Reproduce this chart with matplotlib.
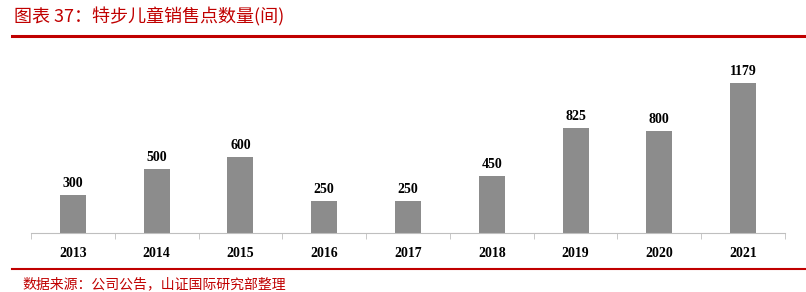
import numpy as np
import matplotlib.pyplot as plt
from matplotlib.lines import Line2D

years = ['2013', '2014', '2015', '2016', '2017', '2018', '2019', '2020', '2021']
stores = [300, 500, 600, 250, 250, 450, 825, 800, 1179]

title = '图表 37：特步儿童销售点数量(间)'
source = '数据来源：公司公告，山证国际研究部整理'

red = '#c00000'
W, H = 806, 292
fig = plt.figure(figsize=(W / 100, H / 100), dpi=100)

ax = fig.add_axes([31 / W, 1 - 233 / H, 754 / W, 178 / H])
x = np.arange(len(years))
ax.bar(x, stores, width=0.31, color='#8c8c8c', zorder=2)
for xi, v in zip(x, stores):
    ax.text(xi, v + 40, str(v), ha='center', va='bottom', fontsize=10,
            fontweight='bold', family='Liberation Serif')

ax.set_xlim(-0.5, len(years) - 0.5)
ax.set_ylim(0, 1400)
ax.set_yticks([])
ax.set_xticks(x)
ax.set_xticklabels(years, fontsize=10, fontweight='bold', family='Liberation Serif')
ax.set_xticks(np.arange(len(years) + 1) - 0.5, minor=True)
ax.tick_params(axis='x', which='major', length=0, pad=10)
ax.tick_params(axis='x', which='minor', length=4, color='#bfbfbf', direction='out')
for s in ['top', 'left', 'right']:
    ax.spines[s].set_visible(False)
ax.spines['bottom'].set_color('#bfbfbf')

fig.text(14 / W, 1 - 17 / H, title, color=red, fontsize=13, va='center',
         family=['Noto Sans CJK SC', 'DejaVu Sans'])
fig.add_artist(Line2D([12 / W, 1], [1 - 36 / H, 1 - 36 / H], color=red, lw=2.2))
fig.add_artist(Line2D([12 / W, 1], [1 - 269 / H, 1 - 269 / H], color=red, lw=1.5))
fig.text(22 / W, 1 - 284 / H, source, color=red, fontsize=10, va='center',
         style='italic', family=['Noto Sans CJK SC', 'DejaVu Sans'])

fig.savefig('out.png', dpi=100, facecolor='white')
